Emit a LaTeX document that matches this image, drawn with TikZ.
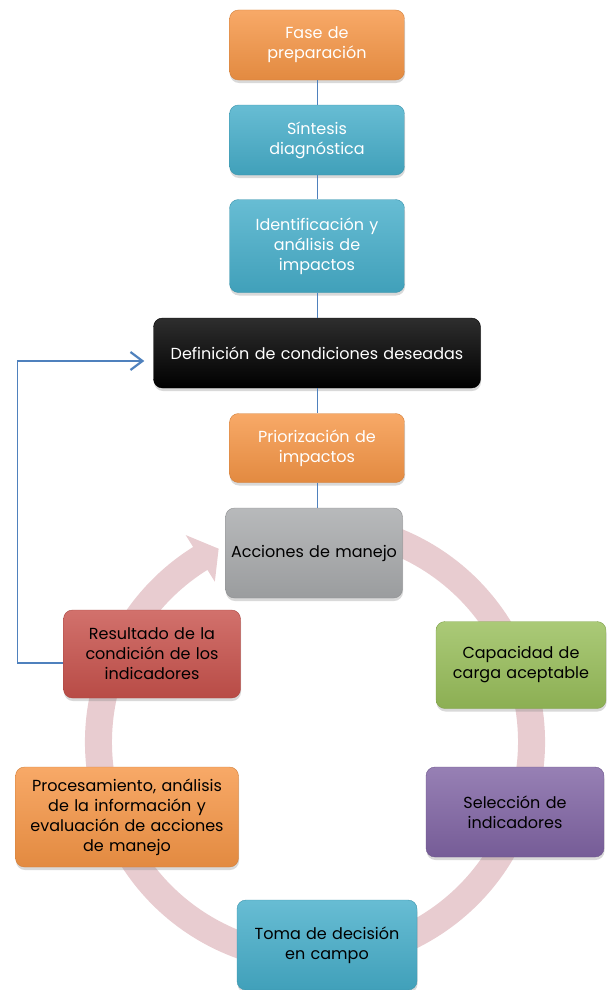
\documentclass[tikz,border=0pt]{standalone}
\usepackage{fontspec}
\setmainfont{Poppins}
\usetikzlibrary{arrows.meta,shadows}

\definecolor{naranja}{RGB}{246,150,70}
\definecolor{turquesa}{RGB}{70,174,202}
\definecolor{gris}{RGB}{168,170,172}
\definecolor{rojo}{RGB}{200,82,76}
\definecolor{verde}{RGB}{152,190,90}
\definecolor{morado}{RGB}{128,100,164}
\definecolor{azul}{RGB}{79,129,189}
\definecolor{rosa}{RGB}{232,204,208}

\begin{document}
\begin{tikzpicture}[x=1pt, y=-1pt,
    caja/.style={rounded corners=9pt, align=center, inner sep=3pt,
        top color=#1!82!white, bottom color=#1!92!black, draw=#1!85!black,
        drop shadow={opacity=0.3, shadow xshift=0.5pt, shadow yshift=-3pt},
        font=\fontsize{16}{20}\selectfont},
    enlace/.style={draw=azul, line width=1pt},
    retorno/.style={draw=azul, line width=1.6pt, -{Straight Barb[length=12pt, width=18pt, line width=2.2pt]}}]
    \useasboundingbox (0,0) rectangle (606,990);

    % anillo del ciclo
    \begin{scope}[shift={(315,742)}]
        \fill[rosa] (72:230pt) arc[start angle=72, end angle=-238, radius=230pt]
            -- (-238:244pt) -- (-243.5:216pt) -- (-238:189pt) -- (-238:203pt)
            arc[start angle=-238, end angle=72, radius=203pt] -- cycle;
    \end{scope}

    % fases superiores
    \node[caja=naranja, text=white, minimum width=175pt, minimum height=70pt, text width=165pt] (fase) at (317,45) {Fase de\\preparación};
    \node[caja=turquesa, text=white, minimum width=175pt, minimum height=70pt, text width=165pt] (sintesis) at (317,140) {Síntesis\\diagnóstica};
    \node[caja=turquesa, text=white, minimum width=175pt, minimum height=93pt, text width=165pt] (identificacion) at (317,246) {Identificación y\\análisis de\\impactos};
    \node[caja=black, text=white, minimum width=327pt, minimum height=70pt, text width=317pt] (definicion) at (317,353) {Definición de condiciones deseadas};
    \node[caja=naranja, text=white, minimum width=175pt, minimum height=69pt, text width=165pt] (priorizacion) at (317,448) {Priorización de\\impactos};

    % ciclo
    \node[caja=gris, text=black, minimum width=177pt, minimum height=90pt, text width=167pt] (acciones) at (314,553) {Acciones de manejo};
    \node[caja=verde, text=black, minimum width=170pt, minimum height=87pt, text width=162pt] (capacidad) at (521,665) {Capacidad de\\carga aceptable};
    \node[caja=morado, text=black, minimum width=178pt, minimum height=90pt, text width=168pt] (seleccion) at (515,812) {Selección de\\indicadores};
    \node[caja=turquesa, text=black, minimum width=180pt, minimum height=90pt, text width=170pt] (toma) at (327,945) {Toma de decisión\\en campo};
    \node[caja=naranja, text=black, minimum width=223pt, minimum height=100pt, text width=215pt] (procesamiento) at (127,817) {Procesamiento, análisis\\de la información y\\evaluación de acciones\\de manejo};
    \node[caja=rojo, text=black, minimum width=177pt, minimum height=88pt, text width=167pt] (resultado) at (152,654) {Resultado de la\\condición de los\\indicadores};

    % enlaces
    \draw[enlace] (fase) -- (sintesis);
    \draw[enlace] (sintesis) -- (identificacion);
    \draw[enlace] (identificacion) -- (definicion);
    \draw[enlace] (definicion) -- (priorizacion);
    \draw[enlace] (priorizacion.south) -- (priorizacion.south |- acciones.north);
    \draw[retorno] ([yshift=-9pt]resultado.west) -- ++(-46,0) |- ([xshift=-9pt,yshift=-8pt]definicion.west);
\end{tikzpicture}
\end{document}
